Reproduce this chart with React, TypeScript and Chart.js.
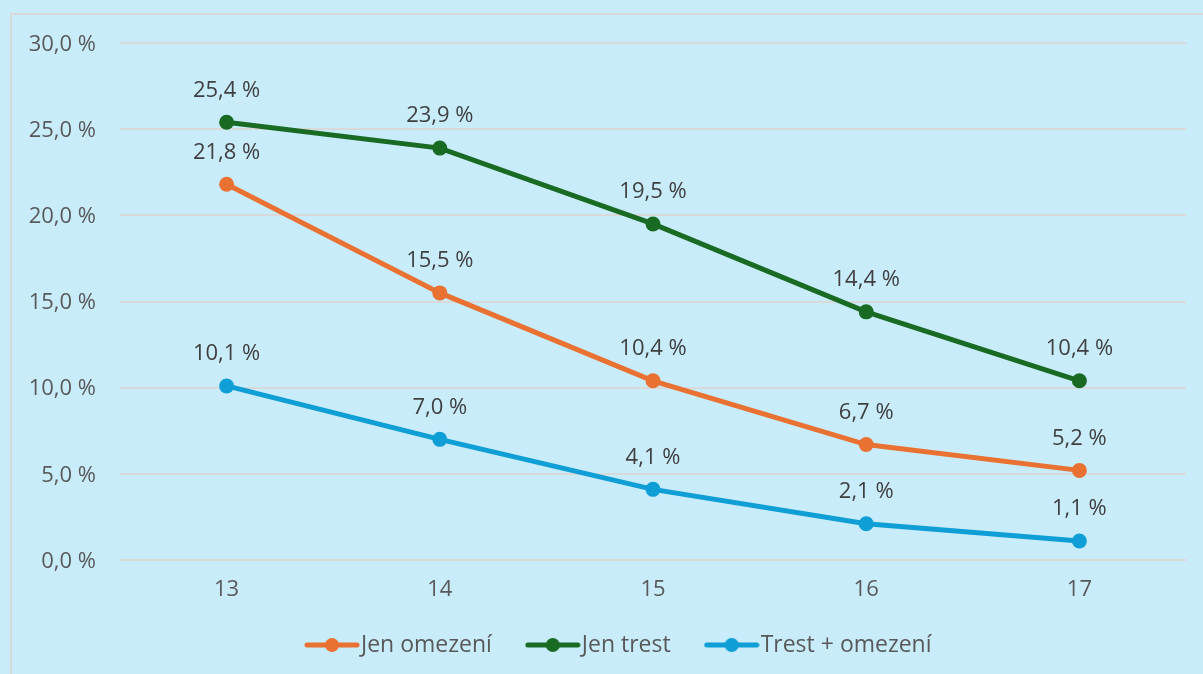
import React, { useEffect, useRef } from "react";
import { Chart, registerables } from "chart.js";

Chart.register(...registerables);

const categories = ["13", "14", "15", "16", "17"];
const jenOmezeni = [21.8, 15.5, 10.4, 6.7, 5.2];
const jenTrest = [25.4, 23.9, 19.5, 14.4, 10.4];
const trestOmezeni = [10.1, 7.0, 4.1, 2.1, 1.1];
const seriesNames = ["Jen omezení", "Jen trest", "Trest + omezení"];
const seriesColors = ["#E97132", "#196B24", "#0F9ED5"];

const FONT = "'Open Sans', sans-serif";
const LEGEND_SHIFT_X = 30;
const LEGEND_SHIFT_Y = -18;

const fmt = (v: number) => v.toFixed(1).replace(".", ",") + " %";

function markerImage(color: string) {
  const c = document.createElement("canvas");
  c.width = 56;
  c.height = 16;
  const ctx = c.getContext("2d")!;
  ctx.strokeStyle = color;
  ctx.lineWidth = 5;
  ctx.lineCap = "round";
  ctx.beginPath();
  ctx.moveTo(3, 8);
  ctx.lineTo(53, 8);
  ctx.stroke();
  ctx.fillStyle = color;
  ctx.beginPath();
  ctx.arc(28, 8, 7, 0, Math.PI * 2);
  ctx.fill();
  return c;
}

const dataLabels = {
  id: "dataLabels",
  afterDatasetsDraw(chart: any) {
    const ctx = chart.ctx;
    ctx.save();
    ctx.font = `22px ${FONT}`;
    ctx.fillStyle = "#404040";
    ctx.textAlign = "center";
    ctx.textBaseline = "middle";
    chart.data.datasets.forEach((ds: any, i: number) => {
      const meta = chart.getDatasetMeta(i);
      meta.data.forEach((pt: any, j: number) => {
        ctx.fillText(fmt(ds.data[j]), pt.x, pt.y - 32);
      });
    });
    ctx.restore();
  },
};

const legendShift = {
  id: "legendShift",
  afterLayout(chart: any) {
    const lg = chart.legend;
    if (lg) {
      lg.left += LEGEND_SHIFT_X;
      lg.right += LEGEND_SHIFT_X;
      lg.top += LEGEND_SHIFT_Y;
      lg.bottom += LEGEND_SHIFT_Y;
    }
  },
};

export default function App() {
  const ref = useRef<HTMLCanvasElement>(null);
  useEffect(() => {
    document.body.style.background = "#C9ECFA";
    const values = [jenOmezeni, jenTrest, trestOmezeni];
    const chart = new Chart(ref.current!, {
      type: "line",
      data: {
        labels: categories,
        datasets: values.map((d, i) => ({
          label: seriesNames[i],
          data: d,
          borderColor: seriesColors[i],
          backgroundColor: seriesColors[i],
          borderWidth: 5,
          pointRadius: 7.5,
          pointHoverRadius: 7.5,
          pointBackgroundColor: seriesColors[i],
          pointBorderWidth: 0,
          tension: 0,
          fill: false,
        })),
      },
      options: {
        responsive: false,
        animation: false,
        layout: { padding: { top: 43, right: 17, bottom: -10.5, left: 0 } },
        plugins: {
          tooltip: { enabled: false },
          legend: {
            position: "bottom",
            labels: {
              usePointStyle: true,
              pointStyleWidth: 35,
              padding: 43.5,
              color: "#595959",
              font: { family: FONT, size: 23 },
              generateLabels: (chart: any) =>
                chart.data.datasets.map((ds: any, i: number) => ({
                  text: ds.label,
                  pointStyle: markerImage(seriesColors[i]),
                  fillStyle: seriesColors[i],
                  strokeStyle: seriesColors[i],
                  lineWidth: 0,
                  fontColor: "#595959",
                  datasetIndex: i,
                  hidden: false,
                })),
            },
          },
        },
        scales: {
          x: {
            offset: true,
            grid: { display: false, drawTicks: false },
            border: { display: false },
            ticks: {
              color: "#595959",
              font: { family: FONT, size: 22 },
              padding: 17,
            },
            afterFit: (s: any) => {
              s.height = 48;
            },
          },
          y: {
            min: 0,
            max: 30,
            ticks: {
              stepSize: 5,
              color: "#595959",
              font: { family: FONT, size: 22 },
              padding: 24,
              labelOffset: 1.5,
              callback: (v: any) => fmt(Number(v)),
            },
            grid: { color: "#D9D9D9", lineWidth: 2, drawTicks: false },
            border: { display: false },
            afterFit: (s: any) => {
              s.width = 120;
            },
          },
        },
      },
      plugins: [dataLabels, legendShift],
    });
    return () => chart.destroy();
  }, []);

  return (
    <div style={{ position: "fixed", inset: 0, background: "#C9ECFA" }}>
      <div
        style={{
          position: "absolute",
          left: 10,
          top: 13,
          width: 1400,
          height: 900,
          border: "2px solid #D9D9D9",
        }}
      />
      <canvas
        ref={ref}
        width={1203}
        height={674}
        style={{ position: "absolute", left: 0, top: 0 }}
      />
    </div>
  );
}
